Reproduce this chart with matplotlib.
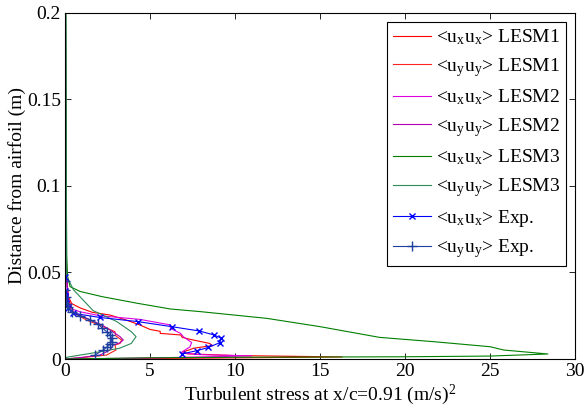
import matplotlib
matplotlib.use("Agg")
import matplotlib.pyplot as plt

plt.rcParams['font.family'] = ['Liberation Serif', 'DejaVu Serif']
plt.rcParams['mathtext.fontset'] = 'custom'
plt.rcParams['mathtext.rm'] = 'Liberation Serif'
plt.rcParams['mathtext.it'] = 'Liberation Serif'
plt.rcParams['mathtext.default'] = 'regular'
plt.rcParams['font.size'] = 14

# LESM1 (red)
lesm1_ux_x = [0.03, 0.05, 0.08, 0.1, 0.15, 0.2, 0.4, 0.9, 1.6, 2.65, 3.6, 4.4, 5.0, 5.6, 5.6, 6.8, 6.9, 7.35, 8.5, 8.7, 8.1, 7.55, 7.35, 6.96, 7.2, 10.0, 16.3, 8.0, 0.0]
lesm1_ux_y = [0.2, 0.1, 0.06, 0.048, 0.04, 0.036, 0.032, 0.0295, 0.027, 0.0254, 0.0225, 0.0197, 0.0171, 0.016, 0.0148, 0.0139, 0.0125, 0.0114, 0.009, 0.0077, 0.007, 0.0062, 0.0054, 0.0042, 0.003, 0.002, 0.0012, 0.0005, 0.0]
lesm1_uy_x = [0.03, 0.05, 0.08, 0.1, 0.2, 0.5, 1.27, 2.25, 2.94, 3.0, 3.33, 3.24, 2.94, 3.0, 2.45, 1.0, 0.0]
lesm1_uy_y = [0.2, 0.1, 0.06, 0.048, 0.035, 0.0267, 0.0225, 0.0187, 0.0158, 0.0133, 0.011, 0.009, 0.0081, 0.0052, 0.0023, 0.0008, 0.0]

# LESM2 (magenta)
lesm2_ux_x = [0.03, 0.05, 0.08, 0.1, 0.15, 0.3, 0.88, 2.06, 4.4, 6.2, 6.2, 6.8, 6.96, 7.45, 7.35, 7.06, 6.8, 8.0, 11.0, 5.0, 0.0]
lesm2_ux_y = [0.2, 0.1, 0.06, 0.048, 0.036, 0.0293, 0.0273, 0.025, 0.0229, 0.0197, 0.0177, 0.0148, 0.0129, 0.0095, 0.007, 0.0052, 0.0035, 0.0025, 0.0018, 0.0006, 0.0]
lesm2_uy_x = [0.03, 0.05, 0.08, 0.1, 0.2, 0.5, 1.3, 2.2, 2.65, 3.24, 3.43, 3.24, 2.84, 2.65, 2.06, 0.8, 0.0]
lesm2_uy_y = [0.2, 0.1, 0.06, 0.048, 0.034, 0.027, 0.0235, 0.0195, 0.0168, 0.0129, 0.011, 0.0094, 0.0081, 0.0052, 0.0023, 0.0007, 0.0]

# LESM3 (green)
lesm3_ux_x = [0.05, 0.08, 0.1, 0.15, 0.3, 0.9, 2.2, 4.2, 6.2, 7.94, 11.86, 15.0, 17.2, 18.5, 21.7, 25.0, 25.8, 28.4, 25.0, 20.0, 16.4, 10.0, 5.0, 0.0]
lesm3_ux_y = [0.2, 0.1, 0.06, 0.048, 0.0418, 0.039, 0.036, 0.0323, 0.0289, 0.0274, 0.0235, 0.0187, 0.0148, 0.0125, 0.01, 0.0071, 0.0052, 0.0029, 0.0017, 0.0013, 0.0012, 0.001, 0.0007, 0.0]
lesm3_uy_x = [0.05, 0.08, 0.1, 0.5, 1.65, 3.05, 3.9, 4.18, 3.9, 3.2, 1.65, 0.1, 0.0]
lesm3_uy_y = [0.2, 0.1, 0.048, 0.04, 0.028, 0.0216, 0.0158, 0.0129, 0.009, 0.0062, 0.0035, 0.001, 0.0]

# Experiment (blue)
exp_ux_x = [0.0, 0.0, 0.0, 0.0, 0.05, 0.2, 0.5, 2.06, 4.3, 6.27, 7.9, 8.76, 9.2, 9.1, 8.43, 7.75, 6.86]
exp_ux_y = [0.0473, 0.0395, 0.0365, 0.035, 0.0323, 0.0295, 0.0264, 0.024, 0.0216, 0.0187, 0.0162, 0.0139, 0.012, 0.0094, 0.0067, 0.0048, 0.0029]
exp_uy_x = [0.02, 0.03, 0.05, 0.1, 0.2, 0.39, 0.88, 1.47, 1.96, 2.16, 2.45, 2.65, 2.75, 2.75, 2.65, 2.45, 2.25, 1.76]
exp_uy_y = [0.045, 0.04, 0.036, 0.032, 0.03, 0.0273, 0.0249, 0.0226, 0.0201, 0.0182, 0.0158, 0.0139, 0.012, 0.0101, 0.0085, 0.0068, 0.0052, 0.0023]

fig = plt.figure(figsize=(5.88, 4.16), dpi=100)
ax = fig.add_axes([0.1105, 0.137, 0.8675, 0.832])

lw = 0.8
ax.plot(lesm1_ux_x, lesm1_ux_y, color='#ff0000', lw=lw, label=r'<u$_x$u$_x$> LESM1')
ax.plot(lesm1_uy_x, lesm1_uy_y, color='#ff2020', lw=lw, label=r'<u$_y$u$_y$> LESM1')
ax.plot(lesm2_ux_x, lesm2_ux_y, color='#e000e0', lw=lw, label=r'<u$_x$u$_x$> LESM2')
ax.plot(lesm2_uy_x, lesm2_uy_y, color='#b000b0', lw=lw, label=r'<u$_y$u$_y$> LESM2')
ax.plot(lesm3_ux_x, lesm3_ux_y, color='#007f00', lw=lw, label=r'<u$_x$u$_x$> LESM3')
ax.plot(lesm3_uy_x, lesm3_uy_y, color='#2e8b57', lw=lw, label=r'<u$_y$u$_y$> LESM3')
ax.plot(exp_ux_x, exp_ux_y, color='#0000ff', lw=lw, marker='x', ms=5, mew=1, label=r'<u$_x$u$_x$> Exp.')
ax.plot(exp_uy_x, exp_uy_y, color='#1f3fa0', lw=lw, marker='+', ms=7, mew=1, label=r'<u$_y$u$_y$> Exp.')

ax.set_xlim(0, 30)
ax.set_ylim(0, 0.2)
ax.set_xticks([0, 5, 10, 15, 20, 25, 30])
ax.set_yticks([0, 0.05, 0.1, 0.15, 0.2])
ax.set_yticklabels(['0', '0.05', '0.1', '0.15', '0.2'])
ax.tick_params(direction='in', top=True, right=True, length=4, width=0.6, pad=3)
for s in ax.spines.values():
    s.set_linewidth(0.8)

ax.set_xlabel('Turbulent stress at x/c=0.91 (m/s)$^2$', labelpad=2)
ax.set_ylabel('Distance from airfoil (m)')
ax.yaxis.set_label_coords(-0.076, 0.5)

leg = ax.legend(loc='upper right', fancybox=False, edgecolor='black', framealpha=1,
                handlelength=2.0, handletextpad=0.25, labelspacing=0.45, borderpad=0.3,
                borderaxespad=0.45)
leg.get_frame().set_linewidth(0.8)

fig.savefig('out.png', dpi=100)
